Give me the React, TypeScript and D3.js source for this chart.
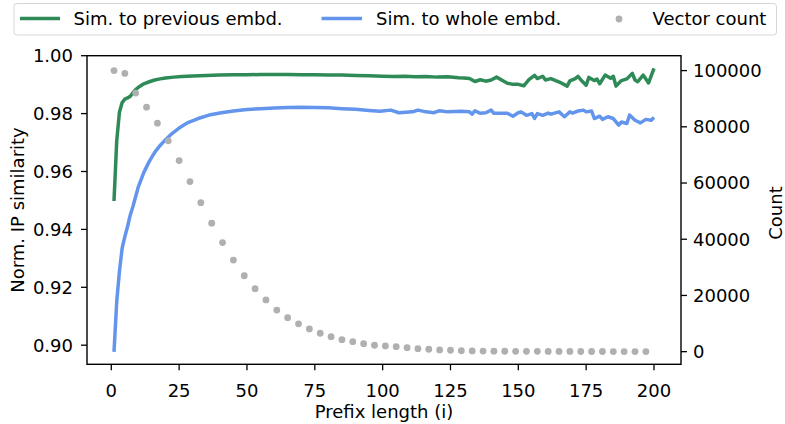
import * as d3 from "d3";
import { useEffect, useRef } from "react";

// prefix length / similarity to previous embedding
const prevX = [1, 2, 3, 4, 5, 6, 7, 8, 9, 10, 12, 14, 16, 18, 20, 23, 26, 30, 35, 40, 45, 50, 55, 60, 65, 70, 75, 80, 85, 90, 95, 100, 104, 108, 112, 116, 120, 124, 128, 130, 132, 134, 136, 138, 140, 142, 144, 146, 148, 150, 152, 154, 156, 157, 159, 160, 162, 164, 166, 168, 169, 171, 172, 173, 175, 176, 178, 179, 180, 182, 184, 185, 186, 188, 190, 192, 193, 194, 196, 198, 200];
const prevSim = [0.9498, 0.9705, 0.9805, 0.9838, 0.985, 0.9854, 0.986, 0.9872, 0.9883, 0.9891, 0.9903, 0.991, 0.9916, 0.992, 0.9923, 0.9926, 0.9928, 0.993, 0.9932, 0.9933, 0.9934, 0.9934, 0.9935, 0.9935, 0.9935, 0.9934, 0.9934, 0.9933, 0.9933, 0.9932, 0.9931, 0.9929, 0.9928, 0.9929, 0.9927, 0.9928, 0.9926, 0.9927, 0.9924, 0.9923, 0.9921, 0.9911, 0.9917, 0.9912, 0.9916, 0.9926, 0.9915, 0.9905, 0.9901, 0.9901, 0.9896, 0.9918, 0.9932, 0.9921, 0.9929, 0.9916, 0.9921, 0.9913, 0.9905, 0.9895, 0.9913, 0.9921, 0.9929, 0.9917, 0.9898, 0.9925, 0.9914, 0.9919, 0.9903, 0.9933, 0.9922, 0.9929, 0.9895, 0.9914, 0.992, 0.9939, 0.9916, 0.991, 0.9933, 0.9906, 0.9956];

// prefix length / similarity to whole embedding
const wholeX = [1, 2, 3, 4, 5, 6, 7, 8, 10, 12, 14, 16, 18, 20, 22, 25, 28, 32, 36, 40, 45, 50, 55, 60, 65, 70, 75, 80, 85, 90, 95, 99, 103, 106, 111, 113, 116, 119, 121, 124, 129, 132, 133, 134, 136, 138, 140, 141, 146, 148, 150, 151, 153, 155, 156, 157, 159, 161, 162, 165, 167, 169, 170, 172, 174, 175, 177, 178, 180, 181, 183, 185, 187, 188, 190, 191, 193, 195, 197, 199, 200];
const wholeSim = [0.8977, 0.915, 0.9255, 0.9335, 0.9375, 0.941, 0.945, 0.948, 0.9548, 0.9597, 0.9635, 0.9666, 0.969, 0.971, 0.9728, 0.975, 0.9768, 0.9783, 0.9795, 0.9802, 0.9809, 0.9814, 0.9817, 0.9819, 0.9821, 0.9822, 0.9821, 0.982, 0.9817, 0.9815, 0.9811, 0.9808, 0.9812, 0.9803, 0.9806, 0.9812, 0.9806, 0.9803, 0.981, 0.9806, 0.9808, 0.9806, 0.9798, 0.981, 0.9801, 0.9803, 0.9812, 0.9801, 0.9801, 0.9791, 0.9803, 0.9806, 0.9794, 0.98, 0.9783, 0.98, 0.9794, 0.9802, 0.9798, 0.9806, 0.9789, 0.9806, 0.9802, 0.9809, 0.9812, 0.9806, 0.9809, 0.9783, 0.9791, 0.978, 0.9789, 0.9783, 0.976, 0.9771, 0.9766, 0.9795, 0.9777, 0.9768, 0.978, 0.9777, 0.9787];

// number of vectors at each sampled prefix length
const countX = [1, 5, 9, 13, 17, 21, 25, 29, 33, 37, 41, 45, 49, 53, 57, 61, 65, 69, 73, 77, 81, 85, 89, 93, 97, 101, 105, 109, 113, 117, 121, 125, 129, 133, 137, 141, 145, 149, 153, 157, 161, 165, 169, 173, 177, 181, 185, 189, 193, 197];
const counts = [100000, 99000, 92000, 87000, 81300, 75000, 68000, 60500, 53000, 45700, 38800, 32600, 27000, 22400, 18400, 14800, 12100, 9900, 8100, 6550, 5340, 4270, 3560, 2850, 2280, 2030, 1780, 1420, 1070, 850, 600, 500, 360, 250, 200, 170, 150, 130, 110, 100, 90, 80, 70, 60, 55, 50, 45, 40, 35, 30];

const xTicks = [0, 25, 50, 75, 100, 125, 150, 175, 200];
const simTicks = [0.9, 0.92, 0.94, 0.96, 0.98, 1.0];
const countTicks = [0, 20000, 40000, 60000, 80000, 100000];

const GREEN = "#2e8b57";
const BLUE = "#6495ed";
const GREY = "#b0b0b0";

const App = () => {
  const svgRef = useRef(null);
  const width = 785;
  const height = 424;

  useEffect(() => {
    const svg = d3.select(svgRef.current);
    svg.selectAll("*").remove();
    svg.style("font-family", "DejaVu Sans").style("font-size", "18px");

    const left = 87, right = 681, top = 55.7, bottom = 364.3;

    const x = d3.scaleLinear().domain([-8.95, 209.95]).range([left, right]);
    const y = d3.scaleLinear().domain([0.8934, 1.0]).range([bottom, top]);
    const y2 = d3.scaleLinear().domain([-4500, 105300]).range([bottom, top]);

    const line = d3
      .line()
      .x((d: any) => x(d[0]))
      .y((d: any) => y(d[1]));

    svg
      .append("path")
      .datum(prevX.map((v, i) => [v, prevSim[i]]))
      .attr("fill", "none")
      .attr("stroke", GREEN)
      .attr("stroke-width", 3.5)
      .attr("stroke-linejoin", "round")
      .attr("d", line as any);

    svg
      .append("path")
      .datum(wholeX.map((v, i) => [v, wholeSim[i]]))
      .attr("fill", "none")
      .attr("stroke", BLUE)
      .attr("stroke-width", 3.5)
      .attr("stroke-linejoin", "round")
      .attr("d", line as any);

    svg
      .append("g")
      .selectAll("circle")
      .data(countX)
      .join("circle")
      .attr("cx", (d) => x(d))
      .attr("cy", (d, i) => y2(counts[i]))
      .attr("r", 3.4)
      .attr("fill", GREY);

    // frame
    svg
      .append("rect")
      .attr("x", left)
      .attr("y", top)
      .attr("width", right - left)
      .attr("height", bottom - top)
      .attr("fill", "none")
      .attr("stroke", "black")
      .attr("stroke-width", 1.4);

    const tickLen = 6;

    const xAxis = svg.append("g");
    xTicks.forEach((t) => {
      xAxis.append("line").attr("x1", x(t)).attr("x2", x(t)).attr("y1", bottom).attr("y2", bottom + tickLen).attr("stroke", "black").attr("stroke-width", 1.3);
      xAxis.append("text").attr("x", x(t)).attr("y", 397).attr("text-anchor", "middle").text(t);
    });
    svg.append("text").attr("x", 384).attr("y", 418).attr("text-anchor", "middle").text("Prefix length (i)");

    const yAxis = svg.append("g");
    simTicks.forEach((t) => {
      yAxis.append("line").attr("x1", left - tickLen).attr("x2", left).attr("y1", y(t)).attr("y2", y(t)).attr("stroke", "black").attr("stroke-width", 1.3);
      yAxis.append("text").attr("x", 73).attr("y", y(t)).attr("dy", "0.36em").attr("text-anchor", "end").text(d3.format(".2f")(t));
    });
    svg
      .append("text")
      .attr("transform", `translate(23.5,${(top + bottom) / 2}) rotate(-90)`)
      .attr("text-anchor", "middle")
      .text("Norm. IP similarity");

    const y2Axis = svg.append("g");
    countTicks.forEach((t) => {
      y2Axis.append("line").attr("x1", right).attr("x2", right + tickLen).attr("y1", y2(t)).attr("y2", y2(t)).attr("stroke", "black").attr("stroke-width", 1.3);
      y2Axis.append("text").attr("x", 693).attr("y", y2(t)).attr("dy", "0.36em").text(t);
    });
    svg
      .append("text")
      .attr("transform", `translate(782,${(top + bottom) / 2 + 3}) rotate(-90)`)
      .attr("text-anchor", "middle")
      .text("Count");

    // legend
    const lg = svg.append("g");
    lg.append("rect")
      .attr("x", 14)
      .attr("y", 3.5)
      .attr("width", 762.5)
      .attr("height", 31.5)
      .attr("rx", 3)
      .attr("fill", "white")
      .attr("fill-opacity", 0.8)
      .attr("stroke", "#d6d6d6")
      .attr("stroke-width", 1);
    lg.append("line").attr("x1", 20).attr("x2", 60).attr("y1", 18.5).attr("y2", 18.5).attr("stroke", GREEN).attr("stroke-width", 3.5);
    lg.append("text").attr("x", 73.5).attr("y", 25).text("Sim. to previous embd.");
    lg.append("line").attr("x1", 321.5).attr("x2", 362).attr("y1", 18.5).attr("y2", 18.5).attr("stroke", BLUE).attr("stroke-width", 3.5);
    lg.append("text").attr("x", 376).attr("y", 25).text("Sim. to whole embd.");
    lg.append("circle").attr("cx", 619).attr("cy", 19).attr("r", 3.4).attr("fill", GREY);
    lg.append("text").attr("x", 652.5).attr("y", 25).text("Vector count");
  }, []);

  return (
    <svg
      ref={svgRef}
      width={width}
      height={height}
      style={{ position: "absolute", left: 0, top: 0, background: "white" }}
    />
  );
};

export default App;
